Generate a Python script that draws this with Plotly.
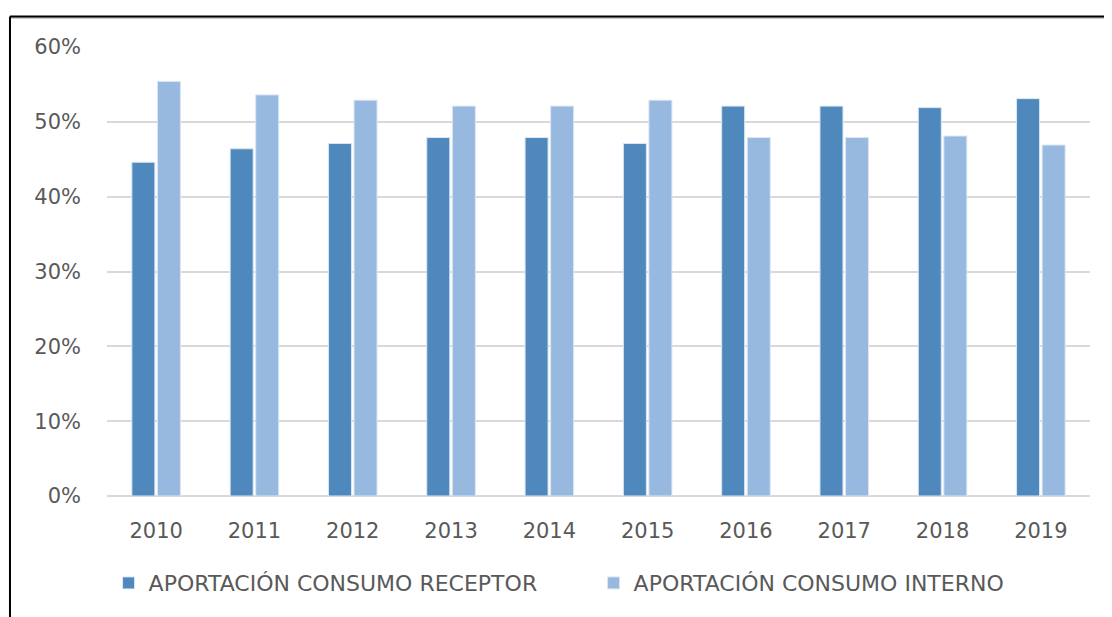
import plotly.graph_objects as go

# Datos (porcentaje)
years = ['2010', '2011', '2012', '2013', '2014', '2015', '2016', '2017', '2018', '2019']
receptor = [44.6, 46.4, 47.1, 47.9, 47.9, 47.1, 52.1, 52.1, 51.9, 53.1]
interno = [55.4, 53.6, 52.9, 52.1, 52.1, 52.9, 47.9, 47.9, 48.1, 46.9]
y_ticks = [0, 10, 20, 30, 40, 50, 60]
y_labels = [f'{v}%' for v in y_ticks]

font_fam = 'DejaVu Sans'
grey = '#595959'

fig = go.Figure()
fig.add_trace(go.Bar(x=years, y=receptor, name='APORTACIÓN CONSUMO RECEPTOR',
                     marker=dict(color='#4F88BD', line=dict(color='#DCE6F2', width=1))))
fig.add_trace(go.Bar(x=years, y=interno, name='APORTACIÓN CONSUMO INTERNO',
                     marker=dict(color='#97B9E0', line=dict(color='#DCE6F2', width=1))))

# marco del gráfico (recortado en la imagen original)
fig.add_shape(type='line', xref='paper', yref='paper', x0=-0.0987, x1=1.05, y0=1.0645, y1=1.0645,
              line=dict(color='#C8C8C8', width=2))
fig.add_shape(type='line', xref='paper', yref='paper', x0=-0.0987, x1=1.05, y0=1.0678, y1=1.0678,
              line=dict(color='black', width=2))
fig.add_shape(type='line', xref='paper', yref='paper', x0=-0.0987, x1=-0.0987, y0=1.0678, y1=-0.3,
              line=dict(color='black', width=2))

fig.update_layout(
    width=1104, height=609,
    margin=dict(l=99, r=22, t=39, b=121),
    paper_bgcolor='white', plot_bgcolor='white',
    barmode='group', bargap=0.48, bargroupgap=0.1,
    font=dict(family=font_fam, color=grey, size=21),
    showlegend=True,
    legend=dict(orientation='h', x=0.495, xanchor='center', y=-0.194, yanchor='middle',
                font=dict(size=22, color=grey), traceorder='normal', entrywidth=440),
    xaxis=dict(showgrid=False, showline=False, ticks='', ticklabelstandoff=20,
               tickfont=dict(size=21, color=grey)),
    yaxis=dict(range=[0, 60], tickvals=y_ticks, ticktext=y_labels,
               showgrid=True, gridcolor='#D9D9D9', gridwidth=2,
               zeroline=True, zerolinecolor='#D9D9D9', zerolinewidth=2,
               showline=False, ticks='', ticklabelstandoff=25,
               tickfont=dict(size=21, color=grey)),
)

fig.write_html('out.html')
